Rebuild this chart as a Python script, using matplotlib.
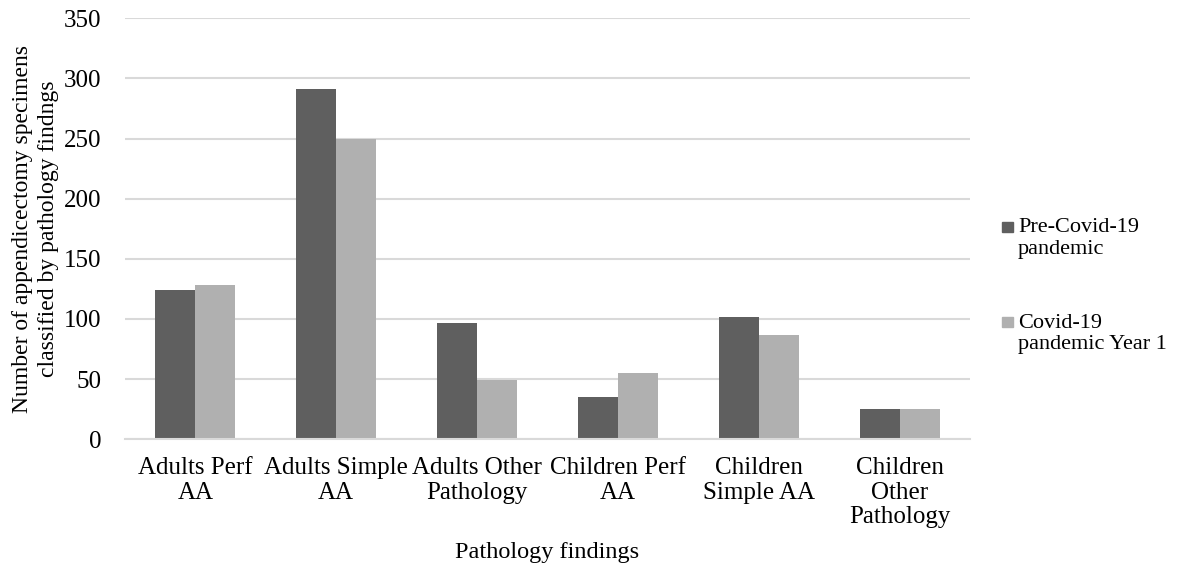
import matplotlib.pyplot as plt
from matplotlib.patches import Rectangle
import numpy as np

# Datos: especímenes de apendicectomía por hallazgo anatomopatológico
categorias = ["Adults Perf\nAA", "Adults Simple\nAA", "Adults Other\nPathology",
              "Children Perf\nAA", "Children\nSimple AA", "Children\nOther\nPathology"]
pre_covid = [124, 291, 97, 35, 102, 25]
covid_ano1 = [128, 250, 49, 55, 87, 25]
series = ["Pre-Covid-19\npandemic", "Covid-19\npandemic Year 1"]
colores = ["#5f5f5f", "#b0b0b0"]
yticks = [0, 50, 100, 150, 200, 250, 300, 350]

plt.rcParams["font.family"] = ["Liberation Serif", "DejaVu Serif"]

fig = plt.figure(figsize=(11.85, 5.69), dpi=100)
ax = fig.add_axes([0.1055, 0.228, 0.713, 0.740])

x = np.arange(len(categorias))
ancho = 0.284
ax.bar(x - ancho / 2, pre_covid, ancho, color=colores[0], zorder=2)
ax.bar(x + ancho / 2, covid_ano1, ancho, color=colores[1], zorder=2)

ax.set_xlim(-0.5, len(categorias) - 0.5)
ax.set_ylim(0, 350)
ax.set_yticks(yticks)
ax.yaxis.grid(True, color="#d9d9d9", linewidth=1.5, zorder=0)
ax.set_axisbelow(True)
for lado in ["top", "right", "left"]:
    ax.spines[lado].set_visible(False)
ax.spines["bottom"].set_color("#d9d9d9")
ax.spines["bottom"].set_linewidth(1.5)

ax.set_xticks(x)
ax.set_xticklabels(categorias, fontsize=18, linespacing=1.15, va="top")
ax.tick_params(axis="x", length=0, pad=13)
ax.tick_params(axis="y", length=0, pad=17, labelsize=18)

ax.set_xlabel("Pathology findings", fontsize=17.5, labelpad=10)
ax.set_ylabel("Number of appendicectomy specimens\nclassified by pathology findngs",
              fontsize=17, linespacing=1.35, va="center")
ax.yaxis.set_label_coords(-0.106, 0.5)

# Leyenda a la derecha, dibujada a mano
for i, (nombre, color) in enumerate(zip(series, colores)):
    y0 = 0.6
    y0 = y0 - i * 0.167
    fig.add_artist(Rectangle((0.8455, y0 - 0.0085), 0.0090, 0.0190,
                             transform=fig.transFigure, color=color))
    fig.text(0.859, y0 + 0.016, nombre, fontsize=16, va="top",
             linespacing=1.2)

fig.savefig("out.png", dpi=100, facecolor="white")
